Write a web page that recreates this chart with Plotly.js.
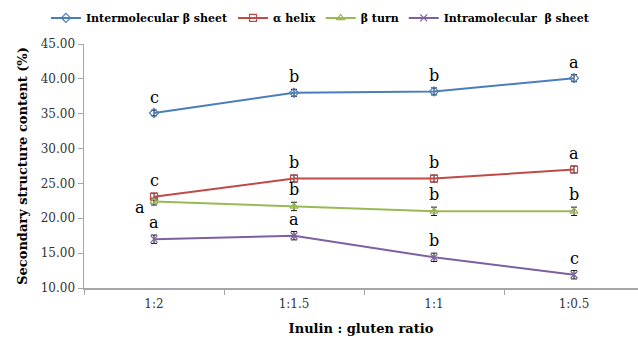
<!DOCTYPE html>
<html>
<head>
<meta charset="utf-8">
<script src="https://cdn.plot.ly/plotly-3.0.1.min.js"></script>
<style>html,body{margin:0;padding:0;background:#fff;}#chart{width:638px;height:341px;}</style>
</head>
<body>
<div id="chart"></div>
<script>
const categories = ["1:2", "1:1.5", "1:1", "1:0.5"];
const seriesNames = ["Intermolecular β sheet", "α helix", "β turn", "Intramolecular  β sheet"];
const interSheet = [35.1, 38.0, 38.2, 40.1];
const alphaHelix = [23.1, 25.7, 25.7, 27.0];
const betaTurn = [22.4, 21.7, 21.0, 21.0];
const intraSheet = [17.0, 17.5, 14.4, 11.9];
const interErr = [0.4, 0.5, 0.5, 0.5];
const alphaErr = [0.5, 0.5, 0.5, 0.5];
const turnErr = [0.5, 0.6, 0.6, 0.6];
const intraErr = [0.6, 0.6, 0.6, 0.6];
const interLetters = ["c", "b", "b", "a"];
const alphaLetters = ["c", "b", "b", "a"];
const turnLetters = ["a", "b", "b", "b"];
const intraLetters = ["a", "a", "b", "c"];

const SERIF = "DejaVu Serif";
const colors = ["#4a7ebb", "#be4b48", "#98b954", "#7d60a0"];
const symbols = ["diamond-open", "square-open", "triangle-up-open", "x-thin-open"];
const values = [interSheet, alphaHelix, betaTurn, intraSheet];
const errs = [interErr, alphaErr, turnErr, intraErr];
const letters = [interLetters, alphaLetters, turnLetters, intraLetters];

const traces = values.map((v, i) => ({
  type: "scatter", mode: "lines+markers", name: seriesNames[i],
  x: categories, y: v,
  line: {color: colors[i], width: 2},
  marker: {symbol: symbols[i], size: 7, color: colors[i], line: {color: colors[i], width: 1.2}},
  error_y: {type: "data", array: errs[i], visible: true, color: "#1a1a1a", thickness: 1, width: 3}
}));

const annotations = [];
letters.forEach((arr, i) => {
  arr.forEach((t, j) => {
    const left = (i === 2 && j === 0);
    annotations.push({
      x: categories[j], y: values[i][j] + (left ? 0 : errs[i][j]), text: t, showarrow: false,
      xref: "x", yref: "y",
      xshift: left ? -14 : 0, yshift: left ? -6 : 1,
      yanchor: left ? "middle" : "bottom",
      font: {family: SERIF, size: 16, color: "#000"}
    });
  });
});

const layout = {
  width: 638, height: 341,
  margin: {l: 84, r: 0, t: 44, b: 53},
  paper_bgcolor: "#fff", plot_bgcolor: "#fff",
  showlegend: true,
  legend: {orientation: "h", x: 0.072, xref: "container", xanchor: "left",
    y: 0.99, yref: "container", yanchor: "top",
    font: {family: SERIF, size: 11, color: "#000", weight: "bold"},
    itemwidth: 30, tracegroupgap: 0, bgcolor: "rgba(0,0,0,0)"},
  xaxis: {
    type: "category", range: [-0.5, 3.457],
    showline: true, linecolor: "#a6a6a6", linewidth: 1.5,
    ticks: "outside", tickson: "boundaries", ticklen: 5, tickcolor: "#a6a6a6",
    ticklabelstandoff: 4,
    showgrid: false, zeroline: false,
    tickfont: {family: SERIF, size: 12, color: "#333"},
    title: {text: "Inulin : gluten ratio", standoff: 14,
      font: {family: SERIF, size: 13, color: "#000", weight: "bold"}}
  },
  yaxis: {
    range: [10, 45], dtick: 5, tickformat: ".2f",
    showline: true, linecolor: "#a6a6a6", linewidth: 1.5,
    ticks: "outside", ticklen: 5, tickcolor: "#a6a6a6",
    showgrid: false, zeroline: false,
    tickfont: {family: SERIF, size: 12, color: "#333"},
    title: {text: "Secondary structure content (%)", standoff: 10,
      font: {family: SERIF, size: 13, color: "#000", weight: "bold"}}
  },
  annotations: annotations
};

Plotly.newPlot("chart", traces, layout, {displayModeBar: false, staticPlot: true});
</script>
</body>
</html>
